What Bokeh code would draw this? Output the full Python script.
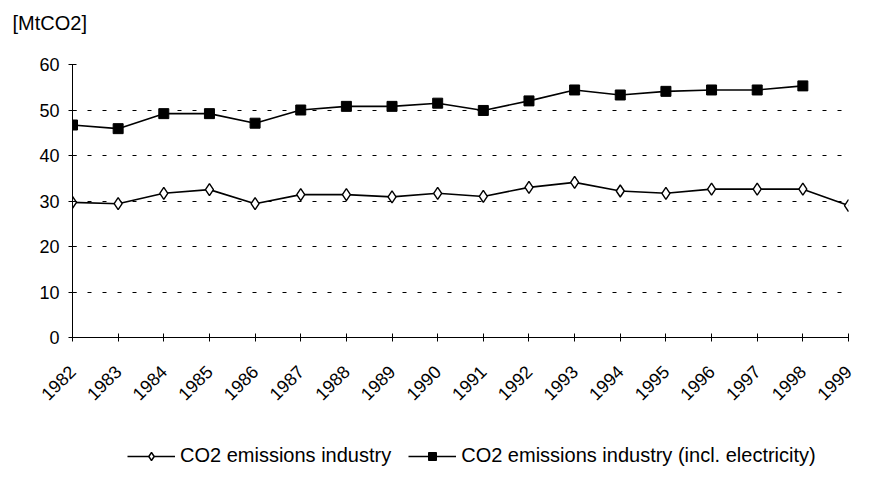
import math
from bokeh.plotting import figure
from bokeh.layouts import column
from bokeh.models import Range1d, FixedTicker, Legend, LegendItem
from bokeh.embed import file_html
from bokeh.resources import INLINE

years = list(range(1982, 2000))
industry = [29.7, 29.4, 31.7, 32.5, 29.4, 31.4, 31.4, 30.9, 31.7, 31.0,
            33.0, 34.1, 32.2, 31.7, 32.6, 32.6, 32.6, 29.0]
industry_elec = [46.7, 45.9, 49.2, 49.2, 47.1, 50.0, 50.8, 50.8, 51.5, 49.9,
                 52.0, 54.4, 53.3, 54.1, 54.4, 54.4, 55.3, float("nan")]
y_ticks = [0, 10, 20, 30, 40, 50, 60]
unit_label = "[MtCO2]"
series_names = ["CO2 emissions industry", "CO2 emissions industry (incl. electricity)"]

FONT = "Liberation Sans"
W = 858
LEFT, RIGHT = 72, 10

# thin strip on top that only carries the unit label
tf = figure(width=W, height=40, output_backend="svg", toolbar_location=None,
            x_range=Range1d(0, 1), y_range=Range1d(0, 1), x_axis_type=None, y_axis_type=None,
            min_border_left=LEFT, min_border_right=RIGHT, min_border_top=33, min_border_bottom=0)
tf.outline_line_color = None
tf.title.text = unit_label
tf.title.align = "left"
tf.title.offset = -60
tf.title.standoff = 0
tf.title.text_font = FONT
tf.title.text_font_size = "20px"
tf.title.text_font_style = "normal"
tf.title.text_color = "black"

p = figure(width=W, height=370, output_backend="svg", toolbar_location=None,
           x_range=Range1d(1982, 1999), y_range=Range1d(0, 60),
           min_border_left=LEFT, min_border_right=RIGHT, min_border_top=24, min_border_bottom=73)
p.outline_line_color = None

# horizontal dashed gridlines only
p.xgrid.grid_line_color = None
p.ygrid.grid_line_color = "black"
p.ygrid.grid_line_dash = "4 11"

p.xaxis.ticker = FixedTicker(ticks=years)
p.yaxis.ticker = FixedTicker(ticks=y_ticks)
p.xaxis.major_label_orientation = math.pi / 4
for ax in (p.xaxis, p.yaxis):
    ax.axis_line_color = "black"
    ax.major_tick_line_color = "black"
    ax.major_tick_in = 4
    ax.major_tick_out = 4
    ax.minor_tick_line_color = None
    ax.major_label_text_font = FONT
    ax.major_label_text_font_size = "18px"
    ax.major_label_text_color = "black"
p.yaxis.major_label_standoff = 9
p.xaxis.major_label_standoff = 27

line_kw = dict(line_color="black", line_width=1.6)
dia_kw = dict(marker="diamond", size=12, fill_color="white", line_color="black", line_width=1.4)
sq_kw = dict(marker="square", size=10, fill_color="black", line_color="black")

p.line(years, industry, **line_kw)
p.scatter(years, industry, **dia_kw)
p.line(years, industry_elec, **line_kw)
p.scatter(years, industry_elec, **sq_kw)

# legend lives in its own strip under the chart; its renderers are kept out of view
lf = figure(width=W, height=57, output_backend="svg", toolbar_location=None,
            x_range=Range1d(0, 1), y_range=Range1d(0, 1), x_axis_type=None, y_axis_type=None,
            min_border_left=LEFT, min_border_right=RIGHT, min_border_top=0, min_border_bottom=0)
lf.outline_line_color = None
ll1 = lf.line(years, industry, **line_kw)
ls1 = lf.scatter(years, industry, **dia_kw)
ll2 = lf.line(years, industry_elec, **line_kw)
ls2 = lf.scatter(years, industry_elec, **sq_kw)

legend = Legend(items=[LegendItem(label=series_names[0], renderers=[ll1, ls1]),
                       LegendItem(label=series_names[1], renderers=[ll2, ls2])],
                orientation="horizontal", location=(55, 0))
legend.border_line_color = None
legend.background_fill_alpha = 0
legend.label_text_font = FONT
legend.label_text_font_size = "20px"
legend.label_text_color = "black"
legend.glyph_width = 48
legend.glyph_height = 20
legend.label_standoff = 5
legend.spacing = 17
legend.padding = 0
legend.margin = 0
lf.add_layout(legend)

layout = column(tf, p, lf)
open("out.html", "w").write(file_html(layout, INLINE))
